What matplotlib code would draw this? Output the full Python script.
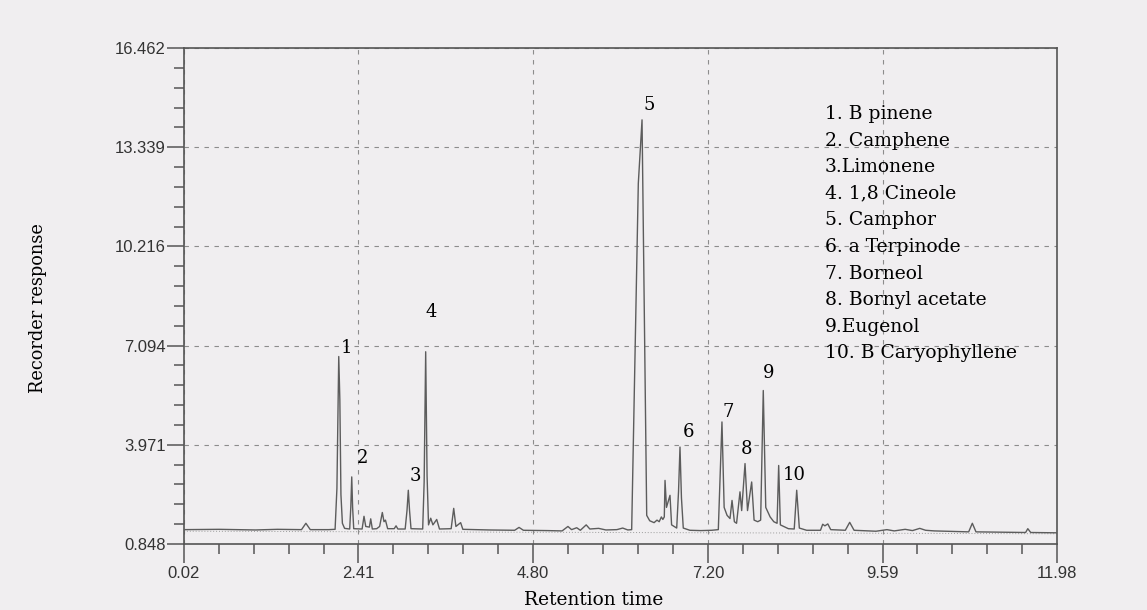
import matplotlib
matplotlib.use("Agg")
import matplotlib.pyplot as plt
from matplotlib.patches import Rectangle
import numpy as np

# trace vertices (retention time, response)
rt = [0.02, 0.5, 1.0, 1.3, 1.63, 1.69, 1.75, 2.0,
      2.09, 2.115, 2.14, 2.155, 2.17, 2.19, 2.22,
      2.29, 2.305, 2.318, 2.33, 2.345,
      2.46, 2.486, 2.51, 2.56, 2.578, 2.60, 2.66, 2.70, 2.737, 2.76, 2.78, 2.81,
      2.90, 2.925, 2.95,
      3.05, 3.075, 3.093, 3.11, 3.13,
      3.29, 3.31, 3.331, 3.35, 3.37, 3.40, 3.43, 3.482, 3.52,
      3.68, 3.715, 3.745, 3.81, 3.84,
      4.2, 4.55, 4.61, 4.67, 5.0, 5.2, 5.28, 5.33, 5.40, 5.45, 5.53, 5.58,
      5.70, 5.80, 5.95, 6.03, 6.10,
      6.153, 6.244, 6.295, 6.359, 6.40, 6.46, 6.50, 6.53, 6.56, 6.58,
      6.60, 6.610, 6.63, 6.678, 6.70,
      6.77, 6.795, 6.815, 6.835, 6.86,
      6.95, 7.1, 7.25,
      7.34, 7.39, 7.42, 7.46, 7.50, 7.528, 7.56, 7.59, 7.637, 7.66,
      7.706, 7.74, 7.797, 7.83, 7.88,
      7.92, 7.956, 7.99, 8.05, 8.10,
      8.145, 8.167, 8.19, 8.30,
      8.38, 8.414, 8.45, 8.55,
      8.74, 8.77, 8.80, 8.84, 8.88, 9.08, 9.14, 9.20,
      9.5, 9.65, 9.75, 9.9, 10.0, 10.1, 10.18, 10.3,
      10.77, 10.82, 10.87, 11.55, 11.58, 11.62, 11.98]
response = [1.30, 1.31, 1.29, 1.31, 1.30, 1.50, 1.30, 1.30,
            1.31, 2.6, 6.75, 5.4, 2.4, 1.5, 1.34,
            1.32, 2.0, 2.96, 2.0, 1.33,
            1.32, 1.72, 1.40, 1.38, 1.64, 1.32, 1.33, 1.40, 1.84, 1.55, 1.60, 1.33,
            1.33, 1.42, 1.32,
            1.32, 1.9, 2.54, 1.9, 1.33,
            1.32, 2.8, 6.9, 3.0, 1.45, 1.66, 1.45, 1.62, 1.32,
            1.33, 1.97, 1.40, 1.52, 1.31,
            1.29, 1.28, 1.37, 1.28, 1.27, 1.26, 1.40, 1.30, 1.36, 1.28, 1.45, 1.32,
            1.34, 1.29, 1.30, 1.35, 1.29,
            1.30, 12.2, 14.2, 1.75, 1.58, 1.52, 1.60, 1.55, 1.70, 1.62,
            1.70, 2.85, 2.0, 2.38, 1.45,
            1.35, 2.5, 3.90, 2.3, 1.35,
            1.28, 1.27, 1.28,
            1.30, 4.69, 2.0, 1.75, 1.65, 2.22, 1.55, 1.50, 2.49, 1.9,
            3.38, 1.9, 2.80, 1.60, 1.55,
            1.60, 5.68, 2.0, 1.70, 1.55,
            1.50, 3.32, 1.45, 1.33,
            1.32, 2.54, 1.35, 1.28,
            1.28, 1.47, 1.42, 1.48, 1.30, 1.28, 1.53, 1.28,
            1.25, 1.30, 1.26, 1.31, 1.27, 1.34, 1.28, 1.26,
            1.23, 1.50, 1.23, 1.21, 1.33, 1.21, 1.20]

baseline_rt = [0.02, 11.98]
baseline_val = [1.25, 1.17]

# numbered peaks
peak_rt = [2.14, 2.318, 3.093, 3.331, 6.295, 6.815, 7.39, 7.706, 7.956, 8.414]
peak_val = [6.75, 2.96, 2.54, 6.9, 14.2, 3.90, 4.69, 3.38, 5.68, 2.54]
peak_num = ["1", "2", "3", "4", "5", "6", "7", "8", "9", "10"]

compounds = ["1. B pinene", "2. Camphene", "3.Limonene", "4. 1,8 Cineole",
             "5. Camphor", "6. a Terpinode", "7. Borneol", "8. Bornyl acetate",
             "9.Eugenol", "10. B Caryophyllene"]

xticks = [0.02, 2.41, 4.80, 7.20, 9.59, 11.98]
xlabels = ["0.02", "2.41", "4.80", "7.20", "9.59", "11.98"]
yticks = [0.848, 3.971, 7.094, 10.216, 13.339, 16.462]
ylabels = ["0.848", "3.971", "7.094", "10.216", "13.339", "16.462"]

bg = "#f0eef0"
fig = plt.figure(figsize=(11.47, 6.10), dpi=100, facecolor=bg)
ax = fig.add_axes([184/1147, 66/610, 873/1147, 496/610], facecolor=bg)

ax.plot(baseline_rt, baseline_val, color="#9a9a9a", lw=0.7, ls=(0, (1, 2)), zorder=2)
ax.plot(rt, response, color="#5c5c5c", lw=1.0, zorder=3)

ax.set_xlim(xticks[0], xticks[-1])
ax.set_ylim(yticks[0], yticks[-1])

ax.set_xticks(xticks)
ax.set_xticklabels(xlabels)
ax.set_yticks(yticks)
ax.set_yticklabels(ylabels)
xminor = np.concatenate([np.linspace(a, b, 6)[1:-1] for a, b in zip(xticks[:-1], xticks[1:])])
yminor = np.concatenate([np.linspace(a, b, 6)[1:-1] for a, b in zip(yticks[:-1], yticks[1:])])
ax.set_xticks(xminor, minor=True)
ax.set_yticks(yminor, minor=True)

ax.tick_params(axis="x", which="major", length=14, width=1.1, color="#555555", pad=2,
               labelsize=12, labelcolor="#333333")
ax.tick_params(axis="y", which="major", length=12, width=1.1, color="#555555", pad=1,
               labelsize=12, labelcolor="#333333")
ax.tick_params(which="minor", length=7.5, width=1.1, color="#555555")
for lab in ax.get_xticklabels() + ax.get_yticklabels():
    lab.set_fontfamily("Liberation Sans")

for s in ax.spines.values():
    s.set_color("#555555")
    s.set_linewidth(1.2)

ax.grid(True, which="major", ls=(0, (4, 5)), color="#8c8c8c", lw=0.8, zorder=1)

# paper area behind the compound list hides the grid
ax.add_patch(Rectangle((0.711, 0.347), 0.275, 0.558, transform=ax.transAxes,
                       facecolor=bg, edgecolor="none", zorder=1.5))

offsets = [(8, 9), (11, 19), (7, 14), (6, 40), (7, 15), (9, 15), (6, 10), (1, 15), (5, 18), (-2, 15)]
for x, y, n, off in zip(peak_rt, peak_val, peak_num, offsets):
    ax.annotate(n, (x, y), xytext=off, textcoords="offset pixels", ha="center", va="center",
                fontsize=13, family="DejaVu Serif", color="black", zorder=4)

for i, c in enumerate(compounds):
    ax.text(0.734, (544 - (114 + i * 26.6)) / 496, c, transform=ax.transAxes,
            ha="left", va="center", fontsize=13.5, family="DejaVu Serif", color="black", zorder=4)

fig.text(38/1147, 302/610, "Recorder response", rotation=90, ha="center", va="center",
         fontsize=12.8, family="DejaVu Serif", color="black")
fig.text(594/1147, 10/610, "Retention time", ha="center", va="center",
         fontsize=13.4, family="DejaVu Serif", color="black")

fig.savefig("out.png", dpi=100, facecolor=bg)
